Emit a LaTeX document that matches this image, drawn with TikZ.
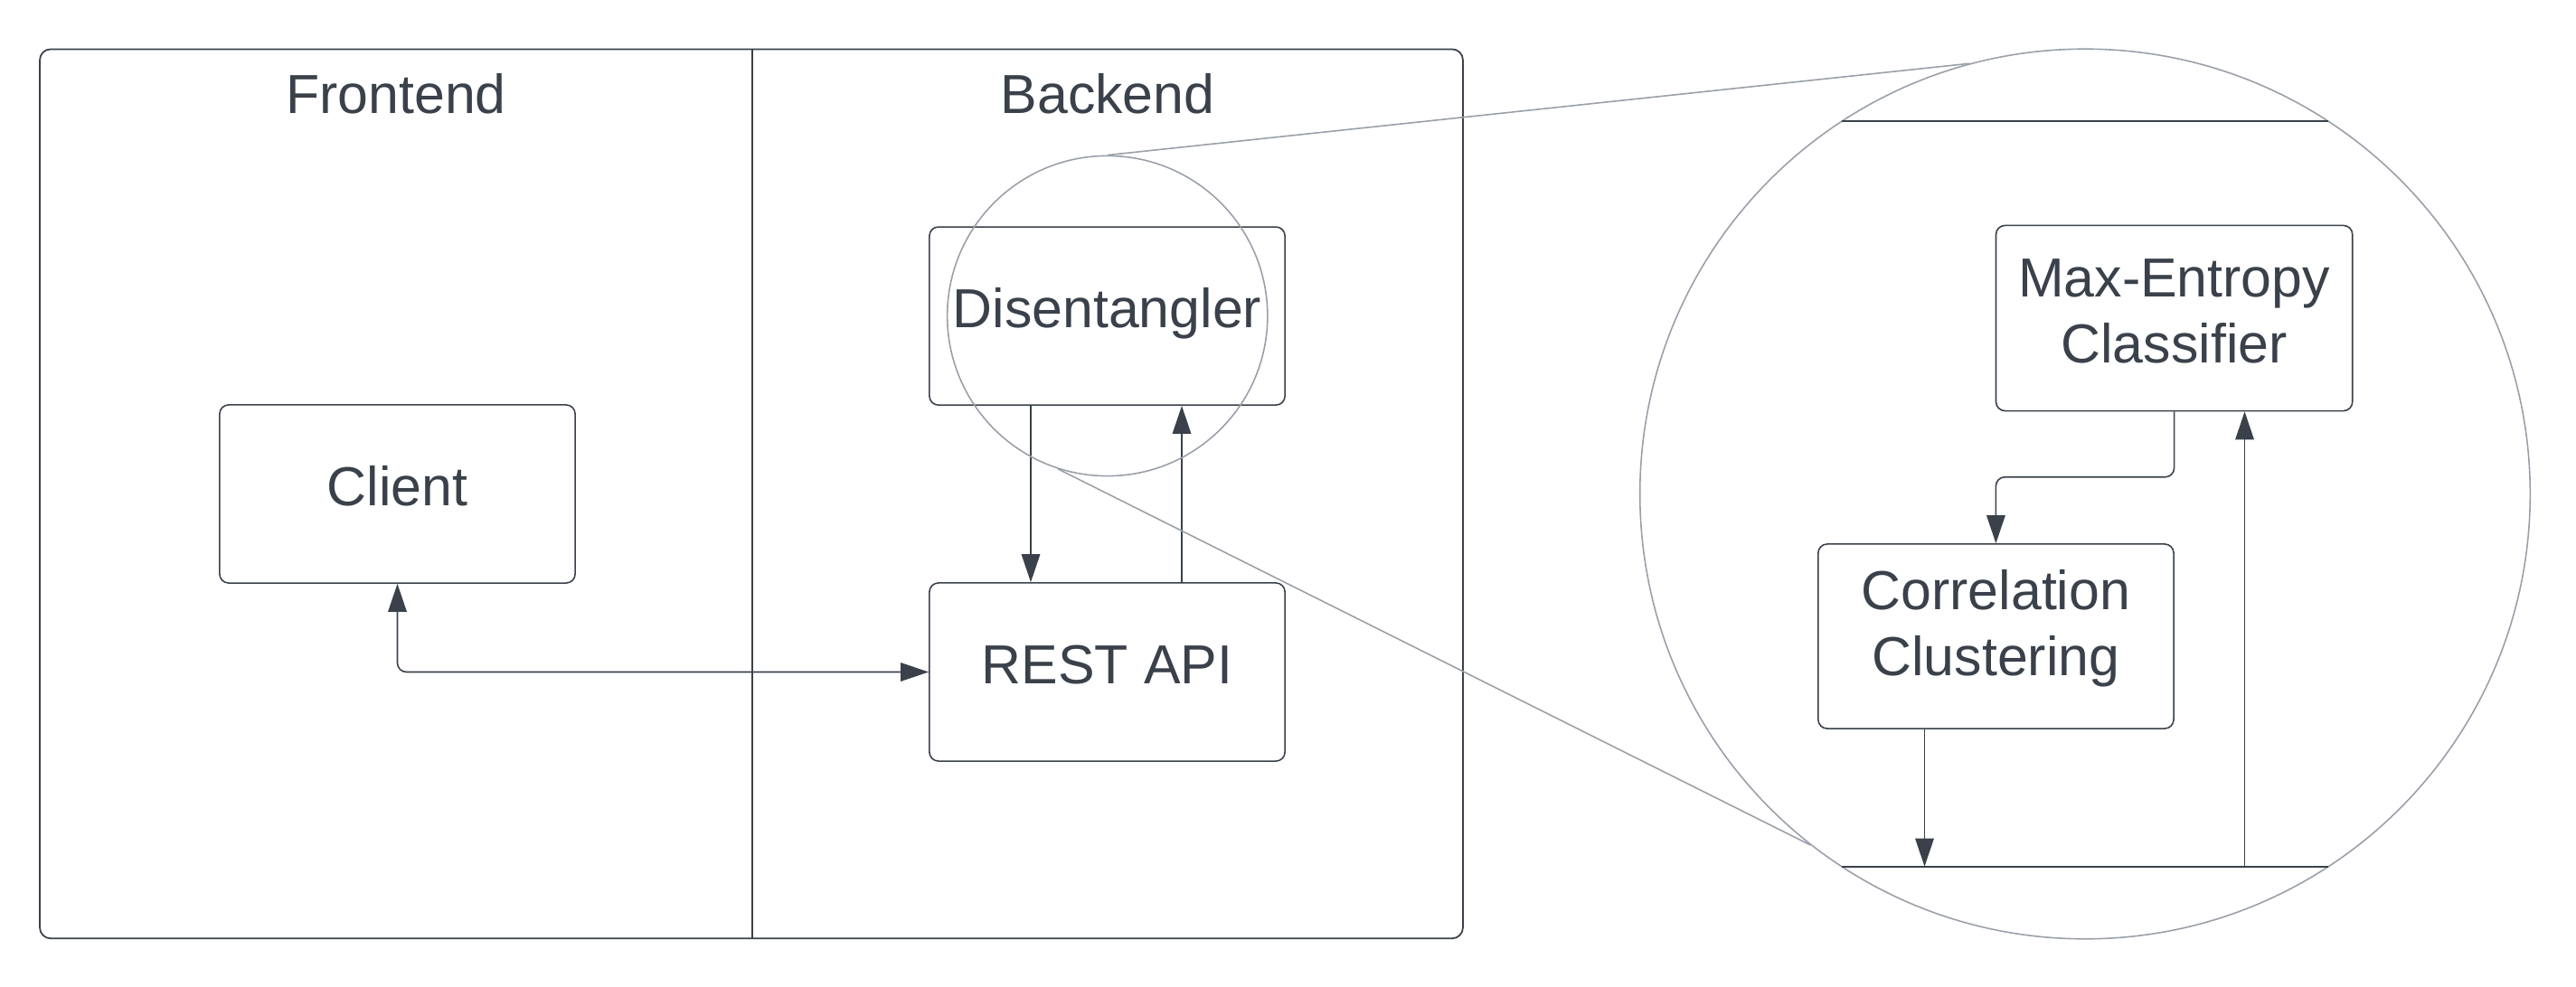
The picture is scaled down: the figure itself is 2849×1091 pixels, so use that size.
\documentclass[tikz,border=0pt]{standalone}
\usepackage{fontspec}
\setmainfont{Liberation Sans}
\usetikzlibrary{arrows.meta}
\definecolor{ink}{HTML}{3A414A}
\definecolor{zoomgrey}{HTML}{9A9FA8}
\newcommand{\lbstrut}{\rule[-0.335em]{0pt}{1.085em}}
\newcommand{\lbdeep}{\rule[-0.526em]{0pt}{0.526em}}
\begin{document}
\begin{tikzpicture}[x=0.01cm,y=-0.01cm,
  every node/.style={text=ink, font=\fontsize{17.3pt}{20.77pt}\selectfont},
  box/.style={draw=ink, line width=0.45pt, fill=white, rounded corners=0.1cm,
    minimum width=3.93cm, minimum height=1.97cm, inner sep=0pt, align=center},
  lanetitle/.style={anchor=base},
  arr/.style={draw=ink, line width=0.45pt, -{Triangle[length=0.31cm,width=0.205cm]}},
  biarr/.style={draw=ink, line width=0.45pt,
    {Triangle[length=0.31cm,width=0.205cm]}-{Triangle[length=0.31cm,width=0.205cm]},
    rounded corners=0.1cm},
  lens/.style={draw=zoomgrey, line width=0.45pt, circle, inner sep=0pt},
  zoomline/.style={draw=zoomgrey, line width=0.45pt},
  chord/.style={draw=ink, line width=0.5pt}]
\useasboundingbox (0,0) rectangle (2849,1091);

% swimlane container
\node[draw=ink, line width=0.5pt, rounded corners=0.12cm, minimum width=15.73cm,
  minimum height=9.833cm, inner sep=0pt] (frame) at (831,546.35) {};
\coordinate (div) at (832,0);
\draw[ink, line width=0.45pt] (frame.north -| div) -- (frame.south -| div);
\node[lanetitle] (fe) at (438,126) {Frontend};
\node[lanetitle] (be) at (1225,126) {Backend};

% boxes
\node[box] (client) at (439.5,546.5) {\lbstrut Client};
\node[box] (dis) at (1224.5,349.6) {\lbstrut Disentangler};
\node[box] (rest) at (1224.5,743.5) {\lbstrut REST API};

% connectors
\coordinate (dx1) at (1140,0);
\coordinate (dx2) at (1307,0);
\draw[arr] (dis.south -| dx1) -- (rest.north -| dx1);
\draw[arr] (rest.north -| dx2) -- (dis.south -| dx2);
\draw[biarr] (rest.west) -| (client.south);

% zoom lens
\node[lens, minimum size=3.54cm] (small) at (1224.75,349.5) {};
\node[lens, minimum size=9.84cm] (big) at (2306,546.5) {};
\draw[zoomline] (small.90) -- (big.105.66);
\draw[zoomline] (small.252.25) -- (big.232.37);
\coordinate (ctl) at (2037,134);
\coordinate (ctr) at (2575,134);
\coordinate (cbl) at (2037,958.7);
\coordinate (cbr) at (2575,958.7);
\draw[chord] (ctl) -- (ctr);
\draw[chord] (cbl) -- (cbr);

% magnified content
\node[box, minimum width=3.94cm, minimum height=2.05cm] (maxent) at (2404.6,352)
  {\lbstrut Max-Entropy\\Classifier\lbstrut};
\node[box, minimum height=2.04cm] (corr) at (2207.4,704)
  {\lbstrut Correlation\\Clustering\lbdeep};
\draw[arr, rounded corners=0.1cm] (maxent.south) -- ++(0,72.4) -| (corr.north);
\coordinate (ux) at (2482.5,958.7);
\coordinate (dx3) at (2128.5,958.7);
\draw[arr] (corr.south -| dx3) -- (dx3);
\draw[arr] (ux) -- (maxent.south -| ux);
\end{tikzpicture}
\end{document}
